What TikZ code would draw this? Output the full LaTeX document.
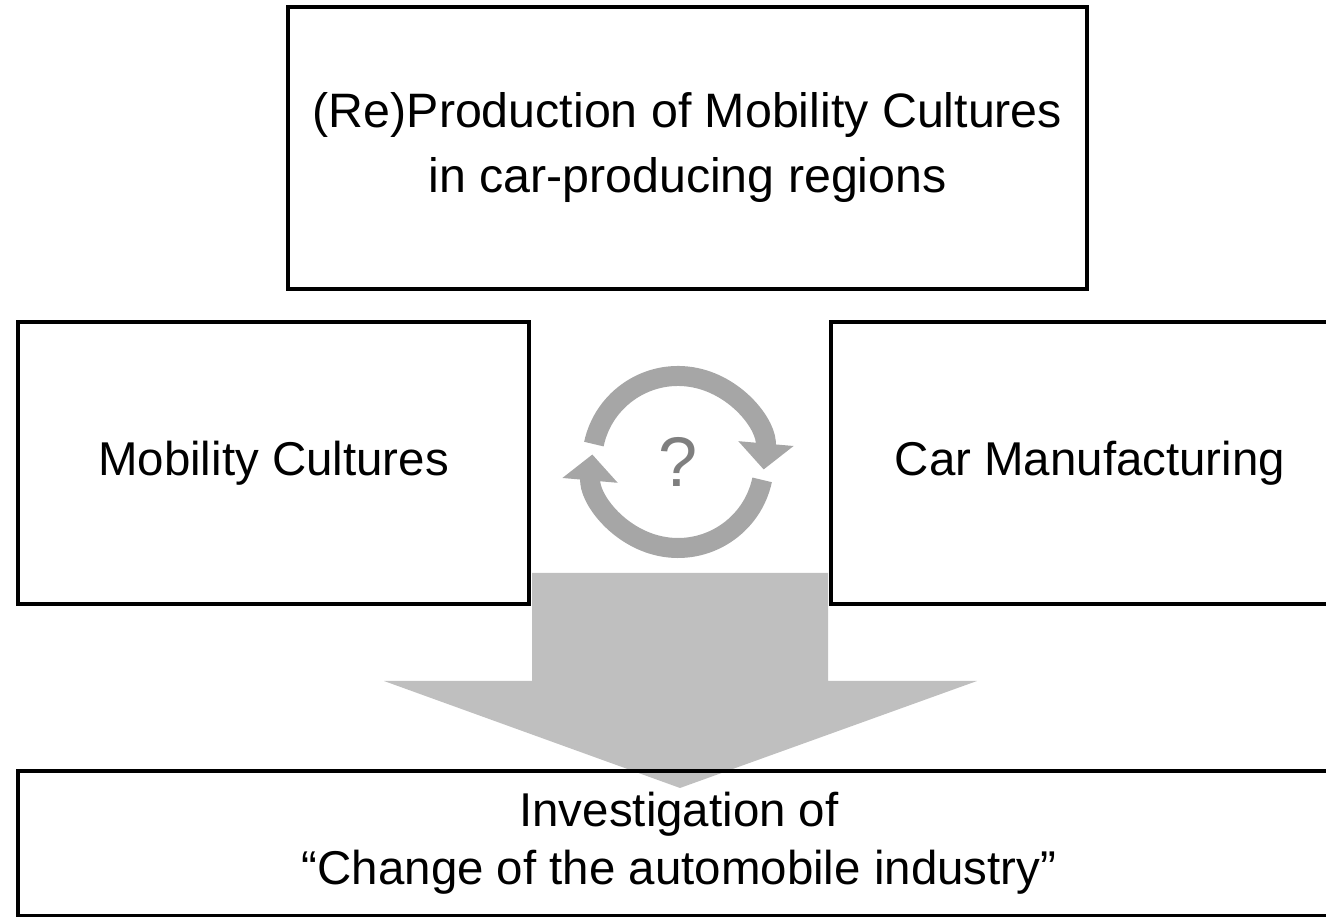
\documentclass[tikz,border=0pt]{standalone}
\usepackage{fontspec}
\setmainfont{Liberation Sans}
\usetikzlibrary{arrows.meta}
\definecolor{arrowgray}{HTML}{BFBFBF}
\definecolor{cyclegray}{HTML}{A6A6A6}
\definecolor{markgray}{HTML}{7F7F7F}
\begin{document}
\begin{tikzpicture}
            \useasboundingbox (0,0) rectangle (26.52,18.34);
            \clip (0,0) rectangle (26.52,18.34);
            % big arrow down to the investigation box
            \coordinate (bl) at (10.64,6.88);
            \coordinate (br) at (16.56,6.88);
            \coordinate (tip) at (13.6,2.58);
            \fill[arrowgray] (bl) -- (br) -- (16.56,4.72) -- (19.54,4.72) -- (tip)
                -- (7.68,4.72) -- (10.64,4.72) -- cycle;
            \begin{scope}[every node/.style={draw,line width=0.08cm,align=center,
                    font=\fontsize{27}{35}\selectfont,minimum height=5.64cm}]
                \node (prod) at (13.75,15.38) [minimum width=15.98cm,
                    font=\fontsize{27.5}{37}\selectfont] {(Re)Production of Mobility Cultures\\in car-producing regions};
                \node (mob) at (5.47,9.08) [minimum width=10.22cm] {Mobility Cultures};
                \node (car) at (21.8,9.08) [minimum width=10.36cm] {Car Manufacturing};
                \node (inv) at (13.58,1.47) [minimum width=26.44cm,minimum height=2.9cm,
                    font=\fontsize{27}{33}\selectfont] {Investigation of\\``Change of the automobile industry''};
            \end{scope}
            % the cycle between the two boxes
            \node (q) at (13.56,9.1) [text=markgray,font=\fontsize{40}{40}\selectfont] {?};
            \begin{scope}[every path/.style={draw=cyclegray,line width=0.4cm,
                    -{Triangle[width=1.08cm,length=0.52cm]}}]
                \path (q.center) ++(168:1.72) arc[start angle=168,end angle=-5,radius=1.72];
                \path (q.center) ++(-12:1.72) arc[start angle=-12,end angle=-185,radius=1.72];
            \end{scope}
        \end{tikzpicture}
\end{document}
